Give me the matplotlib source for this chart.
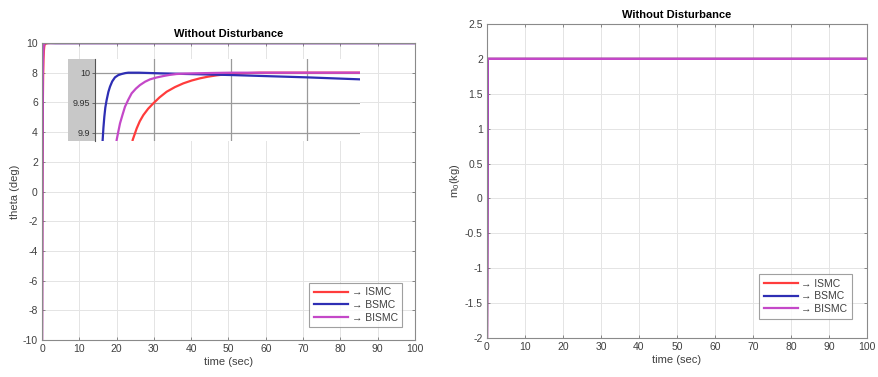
import matplotlib
matplotlib.use("Agg")
import matplotlib.pyplot as plt
from matplotlib.patches import Rectangle
import numpy as np

plt.rcParams['font.family'] = ['Liberation Sans', 'DejaVu Sans']
plt.rcParams['mathtext.default'] = 'regular'
plt.rcParams['axes.unicode_minus'] = False

# theta step responses (deg) vs time (sec)
t_ismc = [0, 0.05, 0.1, 0.2, 0.3, 0.4, 0.5, 0.6, 0.717, 0.745, 0.770, 0.81, 0.857, 0.92,
          0.987, 1.07, 1.162, 1.27, 1.379, 1.49, 1.597, 1.70, 1.815, 1.90, 1.998, 2.2,
          2.382, 3.689, 10, 100]
theta_ismc = [-10, -3.9, 0.3, 5.3, 7.7, 8.9, 9.46, 9.74, 9.8878, 9.898, 9.9072, 9.919,
              9.9294, 9.940, 9.9489, 9.959, 9.9683, 9.976, 9.9822, 9.987, 9.9906, 9.9933,
              9.9956, 9.9968, 9.9978, 9.9992, 10.0, 10.0, 10.0, 10.0]

t_bsmc = [0, 0.05, 0.1, 0.15, 0.2, 0.25, 0.3, 0.325, 0.335, 0.347, 0.36, 0.377, 0.40,
          0.421, 0.45, 0.486, 0.53, 0.573, 0.62, 0.660, 0.8, 1.075, 1.998, 3.0, 3.689,
          10, 100]
theta_bsmc = [-10, 1.0, 5.96, 8.19, 9.18, 9.63, 9.835, 9.8878, 9.908, 9.9267, 9.942,
              9.9544, 9.968, 9.9767, 9.9855, 9.9922, 9.996, 9.9978, 9.9993, 10.0, 10.0,
              9.9989, 9.9961, 9.9922, 9.9889, 9.99, 9.99]

t_bismc = [0, 0.05, 0.1, 0.2, 0.3, 0.4, 0.45, 0.508, 0.530, 0.552, 0.585, 0.617, 0.66,
           0.704, 0.76, 0.813, 0.88, 0.944, 1.03, 1.118, 1.2, 1.292, 1.4, 1.510, 1.75,
           1.998, 3.689, 10, 100]
theta_bismc = [-10, -2.0, 2.8, 7.4, 9.06, 9.66, 9.80, 9.8878, 9.902, 9.9156, 9.930,
               9.9433, 9.955, 9.9656, 9.9735, 9.9794, 9.985, 9.9889, 9.992, 9.9944,
               9.9963, 9.9978, 9.9985, 9.9989, 9.9995, 10.0, 10.0, 10.0, 10.0]

# estimated mass m0 (kg)
t_m = [0, 0.2, 100]
m0_ismc = [-2, 2, 2]
m0_bsmc = [-2, 2, 2]
m0_bismc = [-2, 2, 2]

labels = ['→ ISMC', '→ BSMC', '→ BISMC']
colors = ['#ff3c3c', '#2e2eb4', '#c448c8']

W, H = 879, 377
fig = plt.figure(figsize=(W / 100, H / 100), dpi=100)


def px_axes(x0, y0, x1, y1, **kw):
    # axes from pixel box (top-left origin)
    return fig.add_axes([x0 / W, 1 - y1 / H, (x1 - x0) / W, (y1 - y0) / H], **kw)


def style(ax):
    ax.grid(True, color='#e4e4e4', linewidth=0.7)
    ax.set_axisbelow(True)
    ax.tick_params(direction='in', top=True, right=True, length=2.5, width=0.6,
                   colors='#777777', labelcolor='#404040', labelsize=7.5, pad=3)
    for s in ax.spines.values():
        s.set_color('#8a8a8a')
        s.set_linewidth(0.8)


def add_legend(ax, anchor):
    leg = ax.legend(loc='lower right', fontsize=7.5, handlelength=3.3, handletextpad=0.3,
                    labelspacing=0.25, borderpad=0.45, fancybox=False,
                    bbox_to_anchor=anchor)
    leg.get_frame().set_edgecolor('#888888')
    leg.get_frame().set_linewidth(0.8)
    for txt in leg.get_texts():
        txt.set_color('#404040')


lw = 1.6

ax1 = px_axes(42, 43, 415, 340)
ax1.plot(t_ismc, theta_ismc, color=colors[0], lw=lw, label=labels[0])
ax1.plot(t_bsmc, theta_bsmc, color=colors[1], lw=lw, label=labels[1])
ax1.plot(t_bismc, theta_bismc, color=colors[2], lw=lw, label=labels[2])
ax1.set_xlim(0, 100)
ax1.set_ylim(-10, 10)
ax1.set_xticks(np.arange(0, 101, 10))
ax1.set_yticks(np.arange(-10, 11, 2))
style(ax1)
ax1.set_title('Without Disturbance', fontsize=8, fontweight='bold', pad=4)
ax1.set_xlabel('time (sec)', fontsize=8, color='#404040', labelpad=2)
ax1.set_ylabel('theta (deg)', fontsize=8, color='#404040', labelpad=2)
add_legend(ax1, (0.98, 0.025))

# zoomed view of the settling region
fig.patches.append(Rectangle((67.7 / W, 1 - 140.7 / H), 27.3 / W, 81.4 / H,
                             transform=fig.transFigure, facecolor='#c8c8c8',
                             edgecolor='none', zorder=1))
axi = px_axes(95, 59.3, 360, 140.7, zorder=2)
axi.plot(t_ismc, theta_ismc, color=colors[0], lw=lw)
axi.plot(t_bsmc, theta_bsmc, color=colors[1], lw=lw)
axi.plot(t_bismc, theta_bismc, color=colors[2], lw=lw)
axi.set_xlim(0.225, 3.689)
axi.set_ylim(9.8867, 10.0223)
axi.set_xticks([1, 2, 3])
axi.set_yticks([9.9, 9.95, 10])
axi.set_yticklabels(['9.9', '9.95', '10'])
axi.grid(True, color='#9a9a9a', linewidth=0.9)
axi.set_axisbelow(True)
for name, s in axi.spines.items():
    s.set_visible(name == 'left')
axi.spines['left'].set_color('#555555')
axi.spines['left'].set_linewidth(0.8)
axi.tick_params(axis='x', length=0, labelbottom=False)
axi.tick_params(axis='y', direction='out', length=2, width=0.6, colors='#555555',
                labelcolor='#303030', labelsize=6.5, pad=1.5)

ax2 = px_axes(487, 24, 867, 338)
ax2.plot(t_m, m0_ismc, color=colors[0], lw=lw, label=labels[0])
ax2.plot(t_m, m0_bsmc, color=colors[1], lw=lw, label=labels[1])
ax2.plot(t_m, m0_bismc, color=colors[2], lw=lw, label=labels[2])
ax2.set_xlim(0, 100)
ax2.set_ylim(-2, 2.5)
ax2.set_xticks(np.arange(0, 101, 10))
ax2.set_yticks(np.arange(-2, 2.51, 0.5))
ax2.set_yticklabels(['-2', '-1.5', '-1', '-0.5', '0', '0.5', '1', '1.5', '2', '2.5'])
style(ax2)
ax2.set_title('Without Disturbance', fontsize=8, fontweight='bold', pad=4)
ax2.set_xlabel('time (sec)', fontsize=8, color='#404040', labelpad=2)
ax2.set_ylabel('m$_0$(kg)', fontsize=8, color='#404040', labelpad=2)
add_legend(ax2, (0.975, 0.045))

fig.savefig('out.png', dpi=100)
